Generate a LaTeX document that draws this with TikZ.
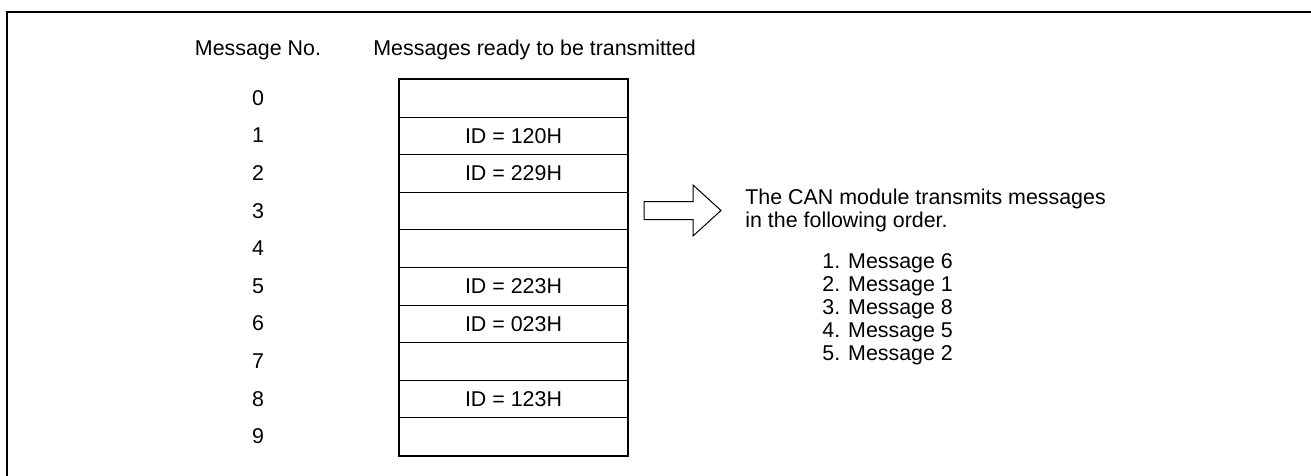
\documentclass[tikz,border=0pt]{standalone}
\usepackage{fontspec}
\setmainfont{Liberation Sans}
\usepackage{tikz}

\begin{document}
\begin{tikzpicture}[x=0.5pt, y=-0.5pt,
        font=\fontsize{10.7}{11.5}\selectfont,
        slot/.style={draw, line width=0.5pt, anchor=north west,
                     minimum width=114pt, minimum height=18.8pt,
                     inner sep=0pt},
        num/.style={inner sep=0pt},
        txt/.style={inner sep=0pt, anchor=west, align=left},
        frame/.style={line width=1pt},
      ]
        \useasboundingbox (0,0) rectangle (1311,476);
        \draw[frame] (7,476) -- (7,12) -- (1311,12);

        \node[num] (hdno) at (258,50) {Message No.};
        \node[txt] (hdmsg) at (373,50) {Messages ready to be transmitted};

        \foreach \i/\id in {0/,1/ID = 120H,2/ID = 229H,3/,4/,
                            5/ID = 223H,6/ID = 023H,7/,8/ID = 123H,9/} {
          \node[slot] (row\i) at (399,{79+37.6*\i}) {\id};
          \node[num] (no\i) at (258,{98+37.6*\i}) {\i};
        }
        \draw[frame] (row0.north west) rectangle (row9.south east);

        % hollow arrow
        \draw[line width=0.5pt] (644,201.5) -- (693,201.5) -- (693,185)
          -- (721,210.5) -- (693,236) -- (693,219.5) -- (644,219.5) -- cycle;

        \node[txt] (result) at (745,210)
          {The CAN module transmits messages\\in the following order.};
        \node[txt] (order) at (822,309)
          {1. Message 6\\2. Message 1\\3. Message 8\\4. Message 5\\5. Message 2};
      \end{tikzpicture}
\end{document}
